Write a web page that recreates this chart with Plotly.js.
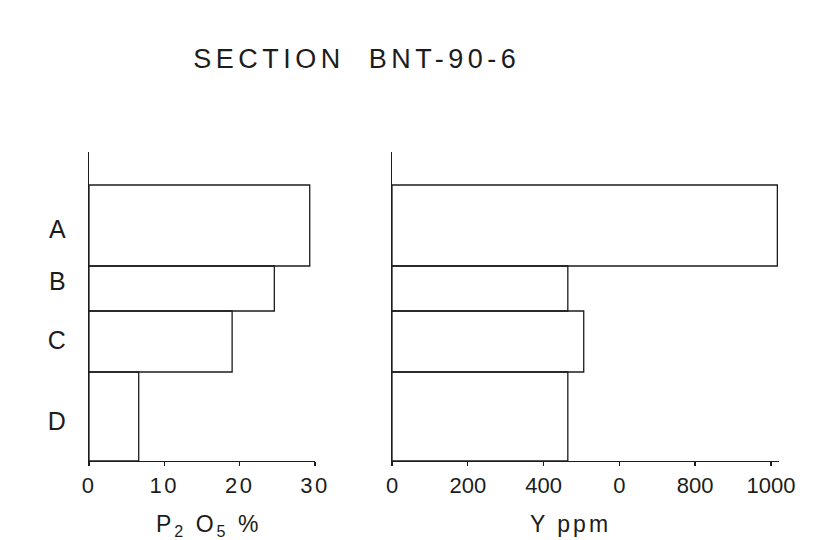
<!DOCTYPE html>
<html>
<head>
<meta charset="utf-8">
<script src="https://cdn.plot.ly/plotly-3.0.1.min.js"></script>
<style>
  html, body { margin: 0; padding: 0; background: #fff; }
  #chart { width: 830px; height: 540px; }
  .xtick text { letter-spacing: 2.5px; }
  .annotation-text { letter-spacing: 3px; }
</style>
</head>
<body>
<div id="chart"></div>
<script>
// Layers (top to bottom) and their relative depth boundaries
const layers = ['A', 'B', 'C', 'D'];
const layerTop = [276, 195, 150, 89];
const layerBottom = [195, 150, 89, 0];
// Depth at which each layer letter is written
const labelDepth = [232, 180, 121, 40];
// Values
const p2o5 = [29.3, 24.6, 19.0, 6.6];      // P2O5 %
const yppm = [1017, 464, 506, 464];        // Y ppm
// Tick labels
const p2o5Ticks = [0, 10, 20, 30];
const p2o5TickText = ['0', '10', '20', '30'];
const yTicks = [0, 200, 400, 600, 800, 1000];
const yTickText = ['0', '200', '400', '0', '800', '1000'];

const centers = layerTop.map((t, i) => (t + layerBottom[i]) / 2);
const widths = layerTop.map((t, i) => t - layerBottom[i]);

const ink = '#1c1c1c';
const font = 'Liberation Sans, Arial, sans-serif';

const barStyle = {
  type: 'bar', orientation: 'h', base: 0,
  marker: { color: 'rgba(255,255,255,0)', line: { color: ink, width: 1.3 } },
  hoverinfo: 'skip', showlegend: false
};

const traces = [
  Object.assign({}, barStyle, { x: p2o5, y: centers, width: widths, xaxis: 'x', yaxis: 'y' }),
  Object.assign({}, barStyle, { x: yppm, y: centers, width: widths, xaxis: 'x2', yaxis: 'y2' })
];

const W = 830, H = 540;
const yDom = [(H - 461) / H, (H - 152) / H];
const common = {
  showgrid: false, zeroline: false, showline: true, linecolor: ink, linewidth: 1.3
};

const layout = {
  width: W, height: H,
  margin: { l: 0, r: 0, t: 0, b: 0 },
  paper_bgcolor: '#fff', plot_bgcolor: 'rgba(0,0,0,0)',
  font: { family: font, color: ink },
  bargap: 0,
  xaxis: Object.assign({}, common, {
    domain: [89 / W, 315 / W], range: [0, 30], anchor: 'y',
    tickmode: 'array', tickvals: p2o5Ticks, ticktext: p2o5TickText,
    ticks: 'outside', ticklen: 4, tickcolor: ink, tickwidth: 1.3,
    tickfont: { size: 22, color: ink, family: font }
  }),
  xaxis2: Object.assign({}, common, {
    domain: [392 / W, 778.5 / W], range: [0, 1020], anchor: 'y2',
    tickmode: 'array', tickvals: yTicks, ticktext: yTickText,
    ticks: 'outside', ticklen: 4, tickcolor: ink, tickwidth: 1.3,
    tickfont: { size: 22, color: ink, family: font }
  }),
  yaxis: Object.assign({}, common, {
    domain: yDom, range: [0, 309], anchor: 'x',
    tickmode: 'array', tickvals: labelDepth, ticktext: layers,
    ticks: '', ticklabelstandoff: 17,
    tickfont: { size: 25, color: ink, family: font }
  }),
  yaxis2: Object.assign({}, common, {
    domain: yDom, range: [0, 309], anchor: 'x2',
    showticklabels: false, ticks: ''
  }),
  annotations: [
    { text: 'SECTION  BNT-90-6', xref: 'paper', yref: 'paper',
      x: 357 / W, y: (H - 59) / H, xanchor: 'center', yanchor: 'middle',
      showarrow: false, font: { size: 27, color: ink, family: font } },
    { text: 'P<sub>2</sub> O<sub>5</sub> %', xref: 'paper', yref: 'paper',
      x: 208 / W, y: (H - 509) / H, xanchor: 'center', yanchor: 'top',
      showarrow: false, font: { size: 23, color: ink, family: font } },
    { text: 'Y ppm', xref: 'paper', yref: 'paper',
      x: 570 / W, y: (H - 509) / H, xanchor: 'center', yanchor: 'top',
      showarrow: false, font: { size: 23, color: ink, family: font } }
  ]
};

Plotly.newPlot('chart', traces, layout, { staticPlot: true, displayModeBar: false }).then(() => {
  const t = document.querySelectorAll('.annotation-text')[0];
  if (t) t.style.letterSpacing = '4.5px';
});
</script>
</body>
</html>
